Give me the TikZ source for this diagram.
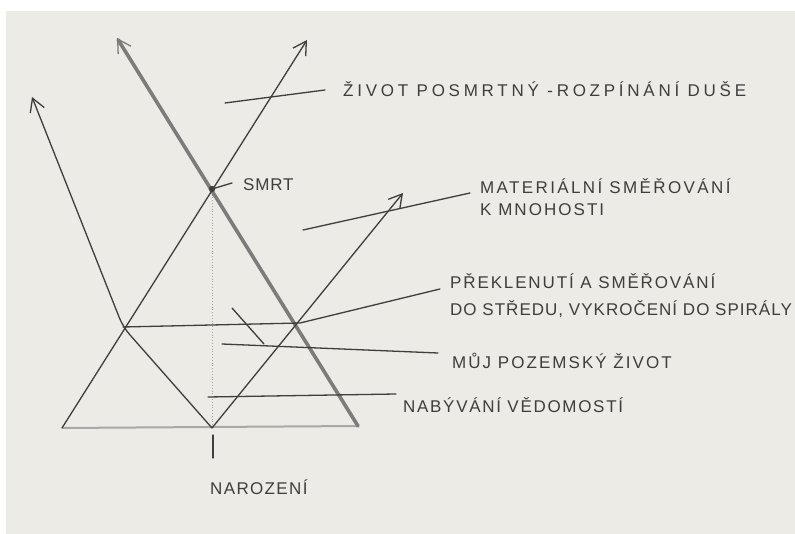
\documentclass[tikz,border=0pt]{standalone}
\usepackage{fontspec}
\setmainfont{Liberation Sans}
\newfontfamily\handfont{Liberation Sans}
\usetikzlibrary{arrows.meta}
\definecolor{paper}{HTML}{EDEBE6}
\definecolor{lead}{HTML}{3E3E3E}
\definecolor{soft}{HTML}{7C7C7C}
\definecolor{faint}{HTML}{A8A8A8}
\tikzset{
  pen/.style={draw=lead, line width=1.3pt, line cap=round},
  heavy/.style={draw=soft, line width=3.6pt, line cap=round},
  base/.style={draw=faint, line width=2pt},
  guide/.style={draw=faint, line width=0.8pt, dotted},
  tip/.style={-{Straight Barb[length=13pt, width=15pt, line width=1.3pt]}},
  lbl/.style={font=\handfont\addfontfeature{LetterSpace=#1}\fontsize{17}{20}\selectfont,
    text=lead, anchor=base west, inner sep=0pt},
  lbl/.default=12,
}
\begin{document}
\begin{tikzpicture}[x=1pt, y=-1pt]
  \useasboundingbox (0,0) rectangle (795,534);
  \fill[white] (0,0) rectangle (795,534);
  \fill[paper] (6,11) rectangle (795,534);
  % points of the figure
  \coordinate (smrt) at (212,189);
  \coordinate (birth) at (212,428);
  \coordinate (bl) at (62,428);
  \coordinate (br) at (358,426);
  \coordinate (xl) at (117,38);
  \coordinate (xr) at (307,40);
  \coordinate (vl) at (32,97);
  \coordinate (vr) at (403,193);
  \coordinate (lcross) at (123,327);
  \coordinate (rcross) at (300,323);
  \coordinate (tick) at (213,458);
  % leader ends
  \coordinate (a1) at (225,103); \coordinate (a2) at (325,90);
  \coordinate (b2) at (232,183);
  \coordinate (c1) at (303,230); \coordinate (c2) at (470,193);
  \coordinate (d2) at (440,289);
  \coordinate (e1) at (222,344); \coordinate (e2) at (438,353);
  \coordinate (f1) at (232,308); \coordinate (f2) at (264,344);
  \coordinate (g1) at (208,397); \coordinate (g2) at (396,394);
  % labels
  \node[lbl=22] (posmrt) at (343,97) {ŽIVOT POSMRTNÝ -ROZPÍNÁNÍ DUŠE};
  \node[lbl=5] (smrtl) at (243,191) {SMRT};
  \node[lbl=14] (mat1) at (480,194) {MATERIÁLNÍ SMĚŘOVÁNÍ};
  \node[lbl=12] (mat2) at (480,216) {K MNOHOSTI};
  \node[lbl=11] (prek1) at (450,289) {PŘEKLENUTÍ A SMĚŘOVÁNÍ};
  \node[lbl=6] (prek2) at (450,316) {DO STŘEDU, VYKROČENÍ DO SPIRÁLY};
  \node[lbl=12] (zivot) at (452,369) {MŮJ POZEMSKÝ ŽIVOT};
  \node[lbl=10] (vedom) at (403,413) {NABÝVÁNÍ VĚDOMOSTÍ};
  \node[lbl=8] (naroz) at (210,494) {NAROZENÍ};
  % figure
  \draw[guide] (smrt) -- (birth);
  \draw[base] (bl) -- (br);
  \draw[heavy, tip] (br) -- (xl);
  \draw[pen, tip] (bl) -- (xr);
  \draw[pen, tip, rounded corners=10pt] (birth) -- (lcross) -- (vl);
  \draw[pen, tip] (birth) -- (vr);
  \draw[pen] (lcross) -- (rcross) -- (d2);
  \draw[pen] (birth) ++(1,7) -- (tick);
  \fill[lead] (smrt) circle (3.2);
  % leaders
  \draw[pen] (a1) -- (a2);
  \draw[pen] (smrt) -- (b2);
  \draw[pen] (c1) -- (c2);
  \draw[pen] (e1) -- (e2);
  \draw[pen] (f1) -- (f2);
  \draw[pen] (g1) -- (g2);
\end{tikzpicture}
\end{document}
